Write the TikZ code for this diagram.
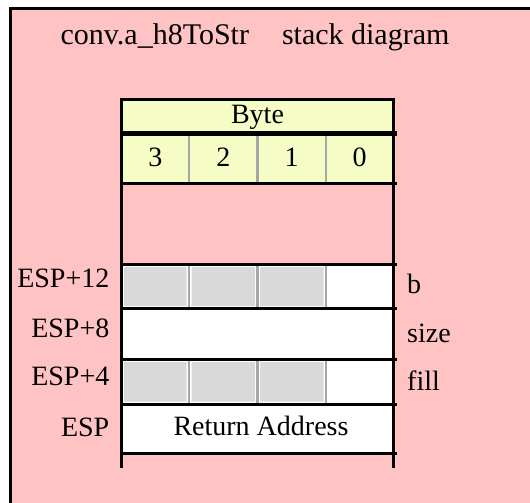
\documentclass[tikz,border=0pt]{standalone}
\usepackage{fontspec}
\setmainfont{Liberation Serif}
\definecolor{stackpink}{RGB}{255,195,195}
\definecolor{headyellow}{RGB}{246,252,198}
\definecolor{padgrey}{RGB}{217,217,217}
\definecolor{rulegrey}{RGB}{166,166,166}

\begin{document}
\begin{tikzpicture}[x=1pt,y=-1pt,
    txt/.style ={inner sep=0pt, font=\fontsize{28}{32}\selectfont},
    stackline/.style ={line width=3pt},
    divide/.style ={draw=rulegrey, line width=2.3pt},
    pad/.style ={fill=padgrey}]
   \useasboundingbox (0,0) rectangle (530,503);
   \fill[stackpink] (10,8) rectangle (530,503);
   \draw[line width=3pt] (10.5,503) -- (10.5,8.5) -- (530,8.5);
   \node[txt, font=\fontsize{30}{34}\selectfont, anchor=base] (title) at (255,45) {conv.a\_h8ToStr\hspace{1.1em}stack diagram};
   % header and slots
   \fill[headyellow] (121.5,99.5) rectangle (393.5,183.5);
   \fill[white] (121.5,264.5) rectangle (393.5,453.5);
   \fill[pad] (124,267) rectangle (186.5,306) (191.5,267) rectangle (255,306) (260,267) rectangle (323.5,306);
   \fill[pad] (124,362) rectangle (186.5,401.5) (191.5,362) rectangle (255,401.5) (260,362) rectangle (323.5,401.5);
   \draw[divide] (189,133.5) -- (189,183.5) (257.5,133.5) -- (257.5,183.5) (326,133.5) -- (326,183.5);
   \draw[divide] (189,264.5) -- (189,308.5) (257.5,264.5) -- (257.5,308.5) (326,264.5) -- (326,308.5);
   \draw[divide] (189,359.5) -- (189,404) (257.5,359.5) -- (257.5,404) (326,359.5) -- (326,404);
   \draw[stackline] (121.5,99.5) -- (393.5,99.5);
   \draw[stackline] (121.5,98) -- (121.5,468) (393.5,98) -- (393.5,468);
   \draw[line width=4.5pt] (121.5,133.5) -- (396.5,133.5);
   \draw[stackline] (121.5,183.5) -- (396.5,183.5) (121.5,264.5) -- (396.5,264.5) (121.5,308.5) -- (396.5,308.5);
   \draw[stackline] (121.5,359.5) -- (396.5,359.5) (121.5,404) -- (396.5,404) (121.5,453.5) -- (396.5,453.5);
   % texts
   \node[txt, anchor=base] (byte) at (257.5,123) {Byte};
   \node[txt, anchor=base] (b3) at (155.3,166) {3};
   \node[txt, anchor=base] (b2) at (223.3,166) {2};
   \node[txt, anchor=base] (b1) at (291.5,166) {1};
   \node[txt, anchor=base] (b0) at (359.5,166) {0};
   \node[txt, anchor=base east] (off12) at (109.5,287) {ESP+12};
   \node[txt, anchor=base east] (off8) at (109.5,337) {ESP+8};
   \node[txt, anchor=base east] (off4) at (109.5,385.7) {ESP+4};
   \node[txt, anchor=base east] (off0) at (109.5,436) {ESP};
   \node[txt, anchor=base west] (argb) at (407,293.7) {b};
   \node[txt, anchor=base west] (argsize) at (407,342) {size};
   \node[txt, anchor=base west] (argfill) at (407,390.3) {fill};
   \node[txt, anchor=base] (retaddr) at (261,435) {Return Address};
 \end{tikzpicture}
\end{document}
